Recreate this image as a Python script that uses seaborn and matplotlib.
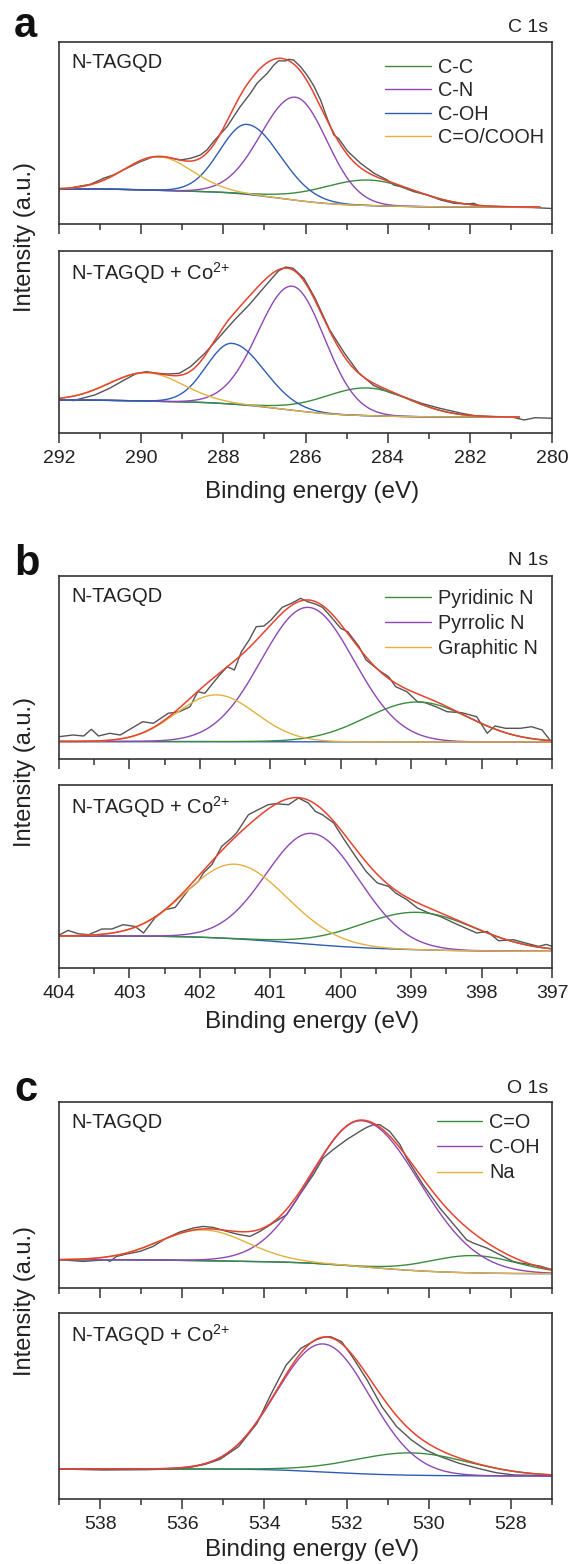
import numpy as np
import pandas as pd
import matplotlib
matplotlib.use("Agg")
import matplotlib.pyplot as plt
from matplotlib.lines import Line2D
from matplotlib.ticker import MultipleLocator
import seaborn as sns

sns.set_theme(style="ticks")
plt.rcParams["font.family"] = ["Liberation Sans", "DejaVu Sans"]
plt.rcParams["mathtext.fontset"] = "custom"
plt.rcParams["mathtext.rm"] = "Liberation Sans"
plt.rcParams["mathtext.default"] = "regular"

# ---------------- colours ----------------
GREEN, PURPLE, BLUE, YELLOW = "#3a8c3e", "#8e47b3", "#2d5db3", "#e4b140"
RED, GRAY = "#e5432e", "#555555"

# ---------------- C 1s ----------------
c1s_names = ["C-C", "C-N", "C-OH", "C=O/COOH"]
c1s_colors = [GREEN, PURPLE, BLUE, YELLOW]
# N-TAGQD
c1s_top_center = [284.46, 286.24, 287.42, 289.58]
c1s_top_height = [25.5, 103.0, 70.0, 33.6]
c1s_top_fwhm_hi = [2.68, 1.97, 1.55, 1.93]     # high-BE (left) half
c1s_top_fwhm_lo = [2.68, 1.80, 1.90, 1.93]     # low-BE (right) half
c1s_top_bg = [35.0, 17.0]                      # high-BE side, low-BE side
c1s_top_range = [280.3, 292.0]
c1s_top_raw_e = [291.65, 291.24, 291.0, 290.92, 290.68, 290.35, 290.02, 289.70, 289.37,
                 289.05, 288.80, 288.56, 288.40, 288.24, 287.91, 287.59, 287.34, 287.18,
                 286.93, 286.77, 286.65, 286.49, 286.41, 286.29, 286.12, 285.96, 285.80,
                 285.63, 285.47, 285.31, 285.19, 284.98, 284.66, 284.33, 284.01, 283.85,
                 283.68, 283.36, 283.03, 282.71, 282.38, 282.06, 281.90, 281.73, 281.41,
                 280.92, 280.5, 280.0]
c1s_top_raw_i = [36.7, 39.7, 44.0, 45.7, 49.0, 55.7, 62.3, 67.3, 66.7,
                 64.0, 65.7, 69.0, 74.0, 82.3, 97.3, 117.3, 130.7, 140.7,
                 150.7, 159.0, 163.3, 163.0, 164.7, 164.0, 157.3, 148.7, 138.3,
                 123.7, 105.3, 89.0, 85.3, 73.0, 60.7, 50.7, 44.0, 39.0,
                 37.3, 32.3, 29.0, 24.0, 20.7, 20.0, 20.7, 17.3, 17.3,
                 16.7, 16.5, 15.5]
# N-TAGQD + Co2+
c1s_bot_center = [284.50, 286.32, 287.79, 289.875]
c1s_bot_height = [27.7, 124.0, 60.7, 28.4]
c1s_bot_fwhm_hi = [2.45, 1.95, 1.45, 2.1]
c1s_bot_fwhm_lo = [2.45, 1.85, 1.85, 2.1]
c1s_bot_bg = [33.0, 16.0]
c1s_bot_range = [280.8, 292.0]
c1s_bot_raw_e = [291.66, 291.13, 290.77, 290.41, 290.14, 289.875, 289.61, 289.34, 289.07,
                 288.80, 288.45, 288.09, 287.73, 287.375, 287.02, 286.66, 286.48, 286.30,
                 286.04, 285.77, 285.41, 285.05, 284.70, 284.34, 283.98, 283.625, 283.18,
                 282.73, 282.20, 281.84, 281.39, 280.95, 280.68, 280.41, 280.0]
c1s_bot_raw_i = [32.3, 38.0, 44.7, 53.0, 59.0, 61.3, 59.7, 59.0, 59.7,
                 66.3, 79.7, 96.3, 113.0, 128.0, 145.0, 162.0, 166.0, 164.7,
                 154.7, 135.0, 103.0, 79.7, 60.0, 47.5, 41.0, 36.3, 29.7,
                 24.7, 19.7, 17.0, 16.3, 15.7, 13.0, 15.3, 14.7]

# ---------------- N 1s ----------------
n1s_names = ["Pyridinic N", "Pyrrolic N", "Graphitic N"]
n1s_colors = [GREEN, PURPLE, YELLOW]
n1s_top_center = [398.91, 400.47, 401.77]
n1s_top_height = [40.0, 134.4, 46.7]
n1s_top_fwhm_hi = [1.72, 1.55, 1.33]
n1s_top_fwhm_lo = [1.72, 1.55, 1.33]
n1s_top_bg = [17.5, 17.0]
n1s_top_range = [397.0, 404.0]
n1s_top_raw_e = [404.0, 403.80, 403.65, 403.54, 403.44, 403.28, 403.13, 402.97, 402.81,
                 402.66, 402.45, 402.29, 402.14, 402.03, 401.93, 401.72, 401.61, 401.51,
                 401.41, 401.30, 401.20, 401.09, 400.99, 400.83, 400.68, 400.57, 400.47,
                 400.36, 400.26, 400.16, 400.00, 399.90, 399.74, 399.64, 399.43, 399.32,
                 399.22, 399.06, 398.91, 398.80, 398.65, 398.49, 398.28, 398.07, 397.92,
                 397.81, 397.66, 397.45, 397.29, 397.14, 397.03]
n1s_top_raw_i = [22.3, 24.0, 23.0, 29.7, 23.0, 25.7, 24.0, 30.7, 37.3,
                 35.7, 45.7, 47.3, 52.3, 67.3, 65.7, 84.0, 92.3, 89.0,
                 107.3, 119.0, 132.3, 133.0, 139.0, 151.7, 156.3, 160.7, 157.3,
                 155.0, 151.7, 144.0, 130.7, 127.3, 112.3, 99.0, 87.3, 82.3,
                 72.3, 67.3, 57.3, 56.3, 52.3, 47.3, 46.3, 42.3, 25.7,
                 33.0, 30.7, 30.7, 32.3, 29.0, 19.0]
n1s_bot_center = [398.91, 400.41, 401.50]
n1s_bot_height = [37.4, 111.0, 74.6]
n1s_bot_fwhm_hi = [1.93, 1.52, 1.62]
n1s_bot_fwhm_lo = [1.93, 1.59, 1.72]
n1s_bot_bg = [32.0, 16.7]
n1s_bot_range = [397.0, 404.0]
n1s_bot_raw_e = [403.99, 403.87, 403.73, 403.58, 403.39, 403.25, 403.09, 402.92, 402.80,
                 402.64, 402.49, 402.35, 402.16, 402.02, 401.95, 401.83, 401.69, 401.55,
                 401.48, 401.31, 401.22, 401.03, 400.93, 400.74, 400.60, 400.46, 400.36,
                 400.26, 400.10, 399.95, 399.79, 399.64, 399.48, 399.32, 399.22, 399.06,
                 398.91, 398.75, 398.59, 398.39, 398.23, 398.07, 397.92, 397.76, 397.55,
                 397.34, 397.19, 397.08, 397.0]
n1s_bot_raw_i = [33.3, 37.6, 34.3, 33.3, 39.0, 39.0, 43.3, 41.6, 35.0,
                 50.0, 58.3, 60.6, 78.3, 86.6, 95.0, 103.3, 121.6, 130.0,
                 135.0, 153.3, 156.6, 163.3, 164.3, 163.3, 170.0, 165.0, 156.6,
                 153.3, 145.0, 128.3, 111.6, 96.6, 85.0, 81.6, 75.0, 68.3,
                 60.0, 55.0, 51.6, 45.0, 40.0, 35.0, 36.6, 27.3, 28.3,
                 24.3, 21.6, 23.6, 21.6]

# ---------------- O 1s ----------------
o1s_names = ["C=O", "C-OH", "Na"]
o1s_colors = [GREEN, PURPLE, YELLOW]
o1s_top_center = [528.9, 531.62, 535.49]
o1s_top_height = [17.3, 146.0, 30.7]
o1s_top_fwhm_hi = [2.5, 2.90, 2.53]
o1s_top_fwhm_lo = [2.5, 3.30, 2.53]
o1s_top_bg = [28.3, 14.3]
o1s_top_range = [527.0, 539.0]
o1s_top_raw_e = [539.0, 538.41, 538.17, 537.84, 537.76, 537.60, 537.35, 537.03, 536.71,
                 536.38, 536.06, 535.73, 535.49, 535.25, 534.92, 534.60, 534.35, 534.11,
                 533.79, 533.46, 533.14, 532.81, 532.57, 532.33, 532.0, 531.68, 531.51,
                 531.35, 531.19, 530.95, 530.70, 530.54, 530.14, 529.73, 529.32, 529.08,
                 528.92, 528.59, 528.27, 527.95, 527.78, 527.3, 527.0]
o1s_top_raw_i = [28.3, 26.6, 27.3, 28.3, 26.6, 31.6, 34.0, 36.6, 41.6,
                 50.0, 56.0, 60.0, 61.6, 60.6, 56.6, 53.3, 51.6, 56.6,
                 65.0, 73.3, 93.3, 113.3, 130.0, 138.3, 148.3, 156.6, 160.6,
                 163.3, 163.3, 156.6, 143.3, 130.0, 103.3, 80.0, 60.0, 48.3,
                 45.0, 40.0, 33.3, 26.6, 25.0, 22.0, 18.3]
o1s_bot_names = ["C=O", "C-OH"]
o1s_bot_colors = [GREEN, PURPLE]
o1s_bot_center = [530.42, 532.57]
o1s_bot_height = [22.3, 128.0]
o1s_bot_fwhm_hi = [3.3, 2.69]
o1s_bot_fwhm_lo = [3.3, 2.69]
o1s_bot_bg = [30.0, 23.0]
o1s_bot_range = [527.0, 539.0]
o1s_bot_raw_e = [538.97, 537.94, 536.87, 535.97, 535.44, 535.08, 534.63, 534.18, 533.83,
                 533.47, 533.11, 532.75, 532.57, 532.39, 532.12, 531.86, 531.50, 531.14,
                 530.78, 530.42, 530.07, 529.71, 529.26, 528.81, 528.36, 527.92, 527.47,
                 527.0]
o1s_bot_raw_i = [30.0, 29.0, 29.3, 30.3, 34.7, 39.7, 52.3, 75.7, 105.7,
                 134.0, 150.7, 159.0, 161.7, 162.3, 157.3, 142.3, 119.0, 92.3,
                 72.3, 59.0, 49.0, 42.3, 35.7, 30.7, 26.3, 24.0, 23.7,
                 23.0]


def fit_curves(center, height, fwhm_hi, fwhm_lo, bg, erange, n=700):
    e = np.linspace(erange[0], erange[1], n)
    peaks = []
    for c, h, wh, wl in zip(center, height, fwhm_hi, fwhm_lo):
        w = np.where(e >= c, wh, wl)
        peaks.append(h * np.exp(-4 * np.log(2) * (e - c) ** 2 / w ** 2))
    total = np.sum(peaks, axis=0)
    frac = np.cumsum(total) / np.sum(total)          # Shirley-type step
    base = bg[1] + (bg[0] - bg[1]) * frac
    return e, base, [base + p for p in peaks], base + total


def draw(ax, names, colors, center, height, fwhm_hi, fwhm_lo, bg, erange, raw_e, raw_i):
    e, base, comps, env = fit_curves(center, height, fwhm_hi, fwhm_lo, bg, erange)
    raw = pd.DataFrame({"energy": raw_e, "intensity": raw_i})
    sns.lineplot(data=raw, x="energy", y="intensity", color=GRAY, lw=1.0,
                 estimator=None, ax=ax)
    sns.lineplot(x=e, y=base, color=BLUE, lw=1.0, estimator=None, ax=ax)
    comp_df = pd.concat([pd.DataFrame({"energy": e, "intensity": c, "component": nm})
                         for nm, c in zip(names, comps)], ignore_index=True)
    sns.lineplot(data=comp_df, x="energy", y="intensity", hue="component",
                 hue_order=names, palette=colors, lw=1.0, estimator=None,
                 legend=False, ax=ax)
    sns.lineplot(x=e, y=env, color=RED, lw=1.1, estimator=None, ax=ax)


W, H = 573, 1564
fig = plt.figure(figsize=(W / 100, H / 100), dpi=100)

L, R = 59, 552
panels = [
    dict(letter="a", core="C 1s", xlim=(292, 280), major=2, minor=1,
         top=(42, 224), bot=(251, 433), letter_y=37, core_y=32, xlab_y=498,
         top_args=(c1s_names, c1s_colors, c1s_top_center, c1s_top_height,
                   c1s_top_fwhm_hi, c1s_top_fwhm_lo, c1s_top_bg, c1s_top_range,
                   c1s_top_raw_e, c1s_top_raw_i),
         bot_args=(c1s_names, c1s_colors, c1s_bot_center, c1s_bot_height,
                   c1s_bot_fwhm_hi, c1s_bot_fwhm_lo, c1s_bot_bg, c1s_bot_range,
                   c1s_bot_raw_e, c1s_bot_raw_i),
         leg_names=c1s_names, leg_colors=c1s_colors, leg_x=0.661, leg_y=0.912,
         leg_sp=0.22),
    dict(letter="b", core="N 1s", xlim=(404, 397), major=1, minor=0.5,
         top=(576, 759), bot=(785, 968), letter_y=575, core_y=565, xlab_y=1028,
         top_args=(n1s_names, n1s_colors, n1s_top_center, n1s_top_height,
                   n1s_top_fwhm_hi, n1s_top_fwhm_lo, n1s_top_bg, n1s_top_range,
                   n1s_top_raw_e, n1s_top_raw_i),
         bot_args=(n1s_names, n1s_colors, n1s_bot_center, n1s_bot_height,
                   n1s_bot_fwhm_hi, n1s_bot_fwhm_lo, n1s_bot_bg, n1s_bot_range,
                   n1s_bot_raw_e, n1s_bot_raw_i),
         leg_names=n1s_names, leg_colors=n1s_colors, leg_x=0.661, leg_y=0.93,
         leg_sp=0.30),
    dict(letter="c", core="O 1s", xlim=(539, 527), major=2, minor=1,
         top=(1102, 1288), bot=(1313, 1499), letter_y=1101, core_y=1093, xlab_y=1556,
         top_args=(o1s_names, o1s_colors, o1s_top_center, o1s_top_height,
                   o1s_top_fwhm_hi, o1s_top_fwhm_lo, o1s_top_bg, o1s_top_range,
                   o1s_top_raw_e, o1s_top_raw_i),
         bot_args=(o1s_bot_names, o1s_bot_colors, o1s_bot_center, o1s_bot_height,
                   o1s_bot_fwhm_hi, o1s_bot_fwhm_lo, o1s_bot_bg, o1s_bot_range,
                   o1s_bot_raw_e, o1s_bot_raw_i),
         leg_names=o1s_names, leg_colors=o1s_colors, leg_x=0.766, leg_y=0.94,
         leg_sp=0.31),
]


def style_axis(ax, p, labels):
    ax.set_xlim(*p["xlim"])
    ax.xaxis.set_major_locator(MultipleLocator(p["major"]))
    ax.xaxis.set_minor_locator(MultipleLocator(p["minor"]))
    ax.tick_params(axis="x", which="major", direction="out", length=7, width=1.1,
                   labelsize=14, pad=5, color="#333333", labelcolor="#222222",
                   labelbottom=labels, top=False)
    ax.tick_params(axis="x", which="minor", direction="out", length=4, width=1.1,
                   color="#333333", top=False)
    ax.set_yticks([])
    ax.set_xlabel("")
    ax.set_ylabel("")
    for s in ax.spines.values():
        s.set_linewidth(1.2)
        s.set_color("#333333")


for p in panels:
    (t0, t1), (b0, b1) = p["top"], p["bot"]
    ax_t = fig.add_axes([L / W, 1 - t1 / H, (R - L) / W, (t1 - t0) / H])
    ax_b = fig.add_axes([L / W, 1 - b1 / H, (R - L) / W, (b1 - b0) / H])
    draw(ax_t, *p["top_args"])
    draw(ax_b, *p["bot_args"])
    ax_t.set_ylim(0, t1 - t0)
    ax_b.set_ylim(0, b1 - b0)
    style_axis(ax_t, p, False)
    style_axis(ax_b, p, True)

    ax_t.text(12 / (R - L), 1 - 26 / (t1 - t0), "N-TAGQD", transform=ax_t.transAxes,
              fontsize=14.5, va="baseline", ha="left", color="#222222")
    ax_b.text(12 / (R - L), 1 - 29 / (b1 - b0), "N-TAGQD + Co$^{2{+}}$",
              transform=ax_b.transAxes, fontsize=14.5, va="baseline", ha="left",
              color="#222222")

    handles = [Line2D([], [], color=c, lw=1.0) for c in p["leg_colors"]]
    ax_t.legend(handles, p["leg_names"], loc="upper left",
                bbox_to_anchor=(p["leg_x"], p["leg_y"]), frameon=False, fontsize=14.3,
                handlelength=2.3, handletextpad=0.35, labelspacing=p["leg_sp"],
                borderaxespad=0, borderpad=0)

    fig.text(14 / W, 1 - p["letter_y"] / H, p["letter"], fontsize=30,
             fontweight="bold", va="baseline", ha="left", color="#111111")
    fig.text(548 / W, 1 - p["core_y"] / H, p["core"], fontsize=14,
             va="baseline", ha="right", color="#222222")
    fig.text(25 / W, 1 - (t0 + b1) / 2 / H, "Intensity (a.u.)", rotation=90,
             fontsize=17, va="center", ha="center", color="#222222")
    fig.text(312 / W, 1 - p["xlab_y"] / H, "Binding energy (eV)", fontsize=17.5,
             va="baseline", ha="center", color="#222222")

fig.savefig("out.png", dpi=100)
